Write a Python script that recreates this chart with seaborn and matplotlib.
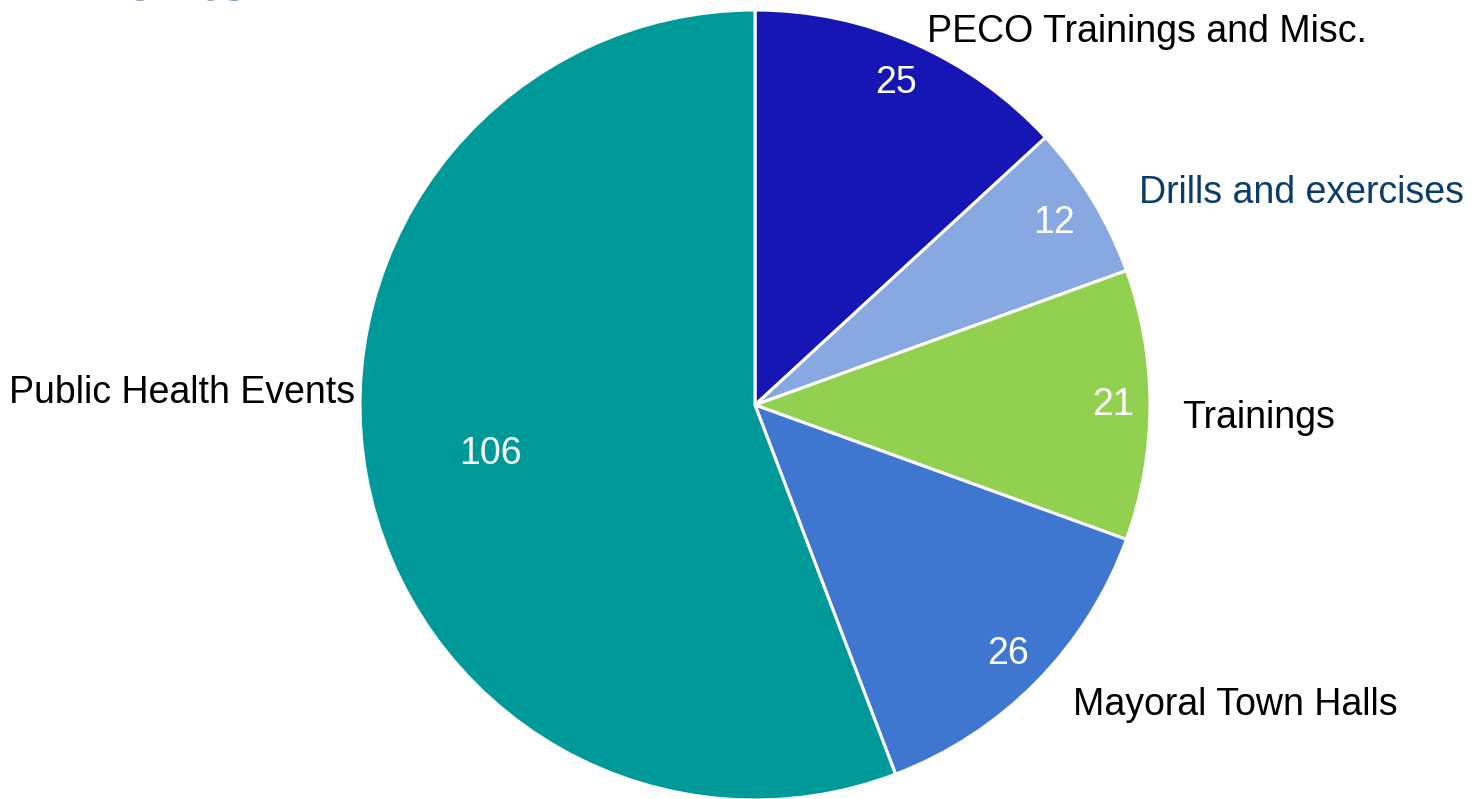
import numpy as np
import matplotlib.pyplot as plt
import seaborn as sns

# data
categories = ["PECO Trainings and Misc.", "Drills and exercises", "Trainings",
              "Mayoral Town Halls", "Public Health Events"]
counts = [25, 12, 21, 26, 106]
colors = ["#1616B4", "#87A8E0", "#92D050", "#3F76CF", "#009999"]
name_colors = ["black", "#0B3C6E", "black", "black", "black"]

# layout of the outside names: (radius, angle deg) and of the numbers: radius
name_pos = [(1.04, 65.3), (1.11, 28.9), (1.083, -1.7), (1.107, -43.3), (1.013, 178.3)]
value_r = [0.89, 0.886, 0.906, 0.90, 0.68]

sns.set_theme(style="white")
plt.rcParams['font.family'] = ['Liberation Sans', 'DejaVu Sans']

fig = plt.figure(figsize=(14.79, 7.99), dpi=100)
ax = fig.add_axes([360/1479, -1/799, 790/1479, 790/799])

wedges, _ = ax.pie(counts, colors=colors, startangle=90, counterclock=False,
                   wedgeprops=dict(edgecolor="white", linewidth=2.2))
ax.set_xlim(-1, 1)
ax.set_ylim(-1, 1)
ax.axis('off')

for w, n, r in zip(wedges, counts, value_r):
    th = np.deg2rad((w.theta1 + w.theta2) / 2)
    ax.text(r*np.cos(th), r*np.sin(th), str(n), color="white", fontsize=27,
            ha="center", va="center")

for name, c, (r, a) in zip(categories, name_colors, name_pos):
    th = np.deg2rad(a)
    x, y = r*np.cos(th), r*np.sin(th)
    ax.text(x, y, name, color=c, fontsize=27, ha="left" if x > 0 else "right",
            va="center", clip_on=False)

# title sits mostly above the slide crop
fig.text(39/1479, 1 + 1/799, "Events", color="#0B3C6E", fontsize=50,
         ha="left", va="baseline")

fig.savefig("out.png", dpi=100)
